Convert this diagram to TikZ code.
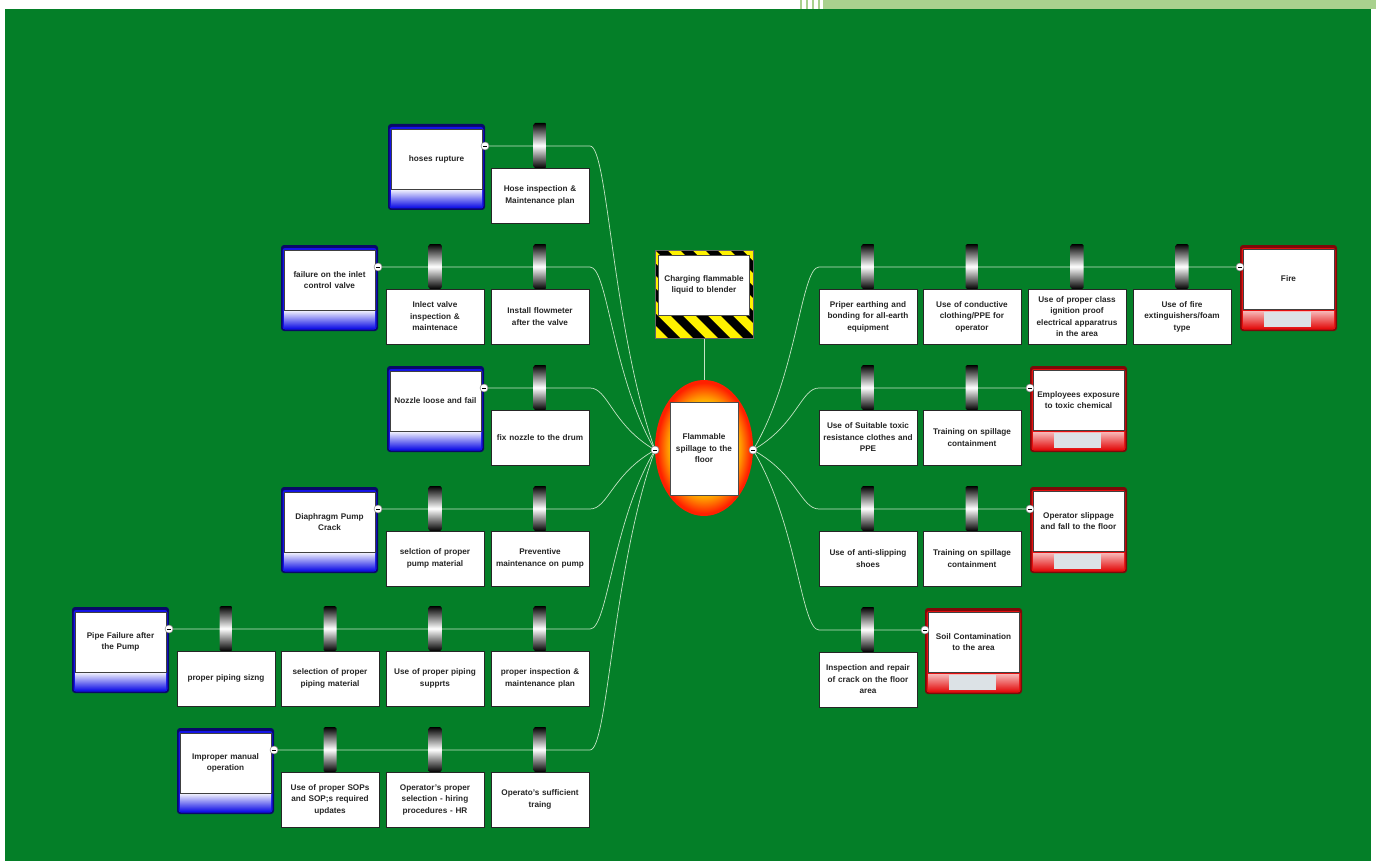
\documentclass[tikz,border=0pt]{standalone}
\usepackage{fontspec}
\setmainfont{Liberation Sans}
\usetikzlibrary{calc,shapes.geometric}
\definecolor{bggreen}{HTML}{047F28}
\definecolor{lightg}{HTML}{A9D18E}
\definecolor{tblue}{HTML}{1414E6}
\definecolor{cred}{HTML}{E41010}
\definecolor{linkc}{HTML}{C4E4C4}
\definecolor{hzyel}{HTML}{FFF200}
\definecolor{lblgray}{HTML}{DCE2E6}
\definecolor{teyel}{HTML}{FFE000}
\definecolor{teora}{HTML}{FF9000}
\definecolor{tered}{HTML}{FF2000}
\pgfdeclareradialshading{teshade}{\pgfpoint{0bp}{0bp}}{%
  color(0bp)=(teyel); color(15bp)=(teyel); color(19bp)=(teora); color(24bp)=(tered); color(50bp)=(tered)}
\tikzset{
  txt/.style={font=\fontsize{8.2}{11.5}\selectfont\bfseries, align=center, text=black!85},
  barbox/.style={txt, rectangle, draw=black!85, line width=0.6pt, fill=white,
    minimum width=98pt, minimum height=55pt, inner sep=1pt, text width=95pt},
  inbox/.style={txt, rectangle, draw=black!75, line width=0.5pt, fill=white,
    minimum width=91pt, minimum height=60pt, inner sep=1pt, text width=89pt},
  conn/.style={circle, draw=black!55, fill=white, minimum size=8pt, inner sep=0pt,
    path picture={\draw[black, line width=0.8pt]
      ($(path picture bounding box.west)+(2pt,0)$) -- ($(path picture bounding box.east)+(-2pt,0)$);}},
  link/.style={draw=linkc, line width=0.7pt},
}
% threat box: name, x-left, y-top, text
\newcommand{\ThreatBox}[4]{%
  \fill[tblue!45!black, rounded corners=3pt] (#2,#3) rectangle ++(97,86);
  \fill[tblue, rounded corners=2.5pt] (#2+1.5,#3+3) rectangle ++(94,81.5);
  \shade[top color=tblue!8!white, bottom color=tblue] (#2+3,#3+66) rectangle ++(91,17);
  \node[inbox] (#1) at (#2+48.5,#3+35) {#4};
}
% consequence box: name, x-left, y-top, text
\newcommand{\ConseqBox}[4]{%
  \fill[cred!55!black, rounded corners=3pt] (#2,#3) rectangle ++(97,86);
  \fill[cred, rounded corners=2.5pt] (#2+1.5,#3+3) rectangle ++(94,81.5);
  \shade[top color=cred!30!white, bottom color=cred] (#2+3,#3+66) rectangle ++(91,17);
  \fill[lblgray] (#2+24,#3+67) rectangle ++(47,15);
  \node[inbox] (#1) at (#2+48.5,#3+34) {#4};
}
% barrier: name, centre x, line y, text
\newcommand{\Barrier}[4]{%
  \shade[top color=black, bottom color=black, middle color=white, rounded corners=1.5pt]
    (#2-6.5,#3-23) rectangle (#2+6.5,#3+22);
  \node[barbox] (#1) at (#2,#3+49.5) {#4};
}
\begin{document}
\begin{tikzpicture}[x=1pt,y=-1pt]
\useasboundingbox (0,0) rectangle (1376,861);
% background
\fill[white] (0,0) rectangle (1376,861);
\fill[bggreen] (5,9) rectangle (1371,861);
\fill[lightg] (823,0) rectangle (1376,9);
\fill[lightg] (800,0) rectangle ++(2,9);
\fill[lightg] (806,0) rectangle ++(2,9);
\fill[lightg] (812,0) rectangle ++(2,9);
\fill[lightg] (818,0) rectangle ++(2,9);

% anchors
\node[inner sep=0, minimum width=98pt, minimum height=88pt] (hzo) at (704,294) {};
\node[ellipse, minimum width=98pt, minimum height=136pt, inner sep=0,
      shading=teshade] (teo) at (704,448) {};
\node[conn] (tl) at (655,450) {};
\node[conn] (tr) at (753,450) {};

% threat connection points and fan starts
\node[conn] (t1c) at (485,146) {};
\node[conn] (t2c) at (378,267) {};
\node[conn] (t3c) at (484,388) {};
\node[conn] (t4c) at (378,509) {};
\node[conn] (t5c) at (169,629) {};
\node[conn] (t6c) at (274,750) {};
\coordinate (t1e) at (590,146);
\coordinate (t2e) at (590,267);
\coordinate (t3e) at (590,388);
\coordinate (t4e) at (590,509);
\coordinate (t5e) at (590,629);
\coordinate (t6e) at (590,750);
% consequence connection points and fan ends
\node[conn] (c1c) at (1240,267) {};
\node[conn] (c2c) at (1030,388) {};
\node[conn] (c3c) at (1030,509) {};
\node[conn] (c4c) at (925,630) {};
\coordinate (c1s) at (819,267);
\coordinate (c2s) at (819,388);
\coordinate (c3s) at (819,509);
\coordinate (c4s) at (819,630);

% links
\draw[link] (hzo.south) -- (teo.north);
\draw[link] (t1c.center) -- (t1e) .. controls (608,146) and (612,328) .. (tl.center);
\draw[link] (t2c.center) -- (t2e) .. controls (608,267) and (612,377) .. (tl.center);
\draw[link] (t3c.center) -- (t3e) .. controls (608,388) and (612,425) .. (tl.center);
\draw[link] (t4c.center) -- (t4e) .. controls (608,509) and (612,474) .. (tl.center);
\draw[link] (t5c.center) -- (t5e) .. controls (608,629) and (612,522) .. (tl.center);
\draw[link] (t6c.center) -- (t6e) .. controls (608,750) and (612,570) .. (tl.center);
\draw[link] (tr.center) .. controls (797,377) and (801,267) .. (c1s) -- (c1c.center);
\draw[link] (tr.center) .. controls (797,425) and (801,388) .. (c2s) -- (c2c.center);
\draw[link] (tr.center) .. controls (797,474) and (801,509) .. (c3s) -- (c3c.center);
\draw[link] (tr.center) .. controls (797,522) and (801,630) .. (c4s) -- (c4c.center);

% hazard
\begin{scope}
  \clip (655,250) rectangle (753,338);
  \fill[hzyel] (655,250) rectangle (753,338);
  \foreach \i in {-4,...,4} {
    \fill[black] (655+\i*25,250) -- ++(12,0) -- ++(88,88) -- ++(-12,0) -- cycle;
  }
\end{scope}
\draw[black!60, line width=0.4pt] (655,250) rectangle (753,338);
\node[txt, fill=white, draw=black!70, line width=0.5pt, minimum width=91pt, minimum height=60pt,
      inner sep=1pt, text width=88pt] (hz) at (704,285) {Charging flammable\\liquid to blender};

% top event
\node[txt, fill=white, draw=black!70, line width=0.5pt, minimum width=68pt, minimum height=93pt,
      inner sep=1pt, text width=66pt] (te) at (704,448.5) {Flammable\\spillage to the\\floor};

% threats
\ThreatBox{t1}{388}{124}{hoses rupture}
\ThreatBox{t2}{281}{245}{failure on the inlet\\control valve}
\ThreatBox{t3}{387}{366}{Nozzle loose and fail}
\ThreatBox{t4}{281}{487}{Diaphragm Pump\\Crack}
\ThreatBox{t5}{72}{607}{Pipe Failure after\\the Pump}
\ThreatBox{t6}{177}{728}{Improper manual\\operation}

% threat barriers
\Barrier{b11}{540}{146}{Hose inspection \&\\Maintenance plan}
\Barrier{b21}{435}{267}{Inlect valve\\inspection \&\\maintenace}
\Barrier{b22}{540}{267}{Install flowmeter\\after the valve}
\Barrier{b31}{540}{388}{fix nozzle to the drum}
\Barrier{b41}{435}{509}{selction of proper\\pump material}
\Barrier{b42}{540}{509}{Preventive\\maintenance on pump}
\Barrier{b51}{226}{629}{proper piping sizng}
\Barrier{b52}{330}{629}{selection of proper\\piping material}
\Barrier{b53}{435}{629}{Use of proper piping\\supprts}
\Barrier{b54}{540}{629}{proper inspection \&\\maintenance plan}
\Barrier{b61}{330}{750}{Use of proper SOPs\\and SOP;s required\\updates}
\Barrier{b62}{435}{750}{Operator's proper\\selection - hiring\\procedures - HR}
\Barrier{b63}{540}{750}{Operato's sufficient\\traing}

% consequences
\ConseqBox{c1}{1240}{245}{Fire}
\ConseqBox{c2}{1030}{366}{Employees exposure\\to toxic chemical}
\ConseqBox{c3}{1030}{487}{Operator slippage\\and fall to the floor}
\ConseqBox{c4}{925}{608}{Soil Contamination\\to the area}

% consequence barriers
\Barrier{r11}{868}{267}{Priper earthing and\\bonding for all-earth\\equipment}
\Barrier{r12}{972}{267}{Use of conductive\\clothing/PPE for\\operator}
\Barrier{r13}{1077}{267}{Use of proper class\\ignition proof\\electrical apparatrus\\in the area}
\Barrier{r14}{1182}{267}{Use of fire\\extinguishers/foam\\type}
\Barrier{r21}{868}{388}{Use of Suitable toxic\\resistance clothes and\\PPE}
\Barrier{r22}{972}{388}{Training on spillage\\containment}
\Barrier{r31}{868}{509}{Use of anti-slipping\\shoes}
\Barrier{r32}{972}{509}{Training on spillage\\containment}
\Barrier{r41}{868}{630}{Inspection and repair\\of crack on the floor\\area}

% connection circles on top
\node[conn] at (t1c) {};
\node[conn] at (t2c) {};
\node[conn] at (t3c) {};
\node[conn] at (t4c) {};
\node[conn] at (t5c) {};
\node[conn] at (t6c) {};
\node[conn] at (c1c) {};
\node[conn] at (c2c) {};
\node[conn] at (c3c) {};
\node[conn] at (c4c) {};
\node[conn] at (tl) {};
\node[conn] at (tr) {};
\end{tikzpicture}
\end{document}
